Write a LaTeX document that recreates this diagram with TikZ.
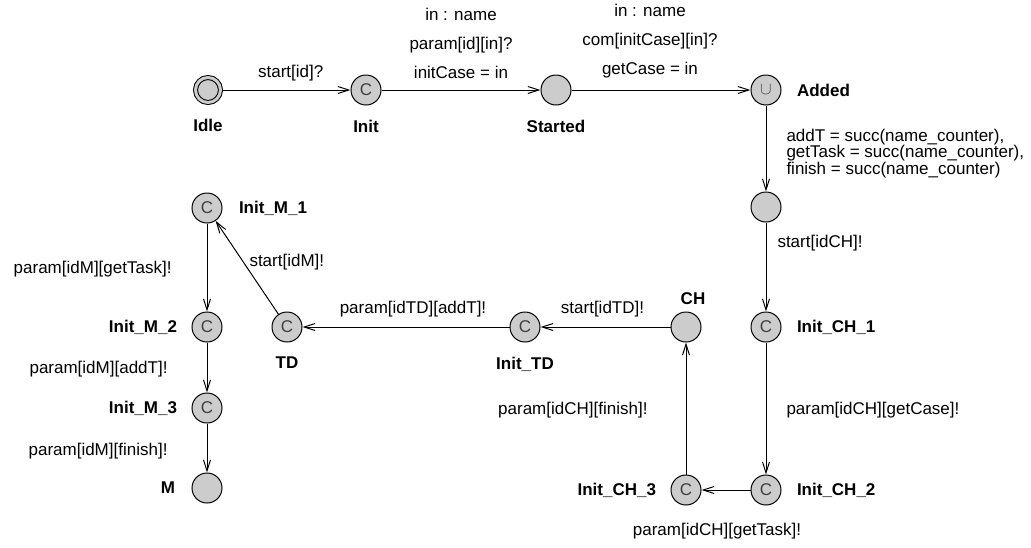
\documentclass[tikz,border=0pt]{standalone}
\usepackage{fontspec}
\setmainfont{Liberation Sans}
\usetikzlibrary{arrows.meta, positioning}

\begin{document}
\begin{tikzpicture}[->,>={Straight Barb[length=11pt,width=7pt]},x=1pt,y=-1pt,
 line width=1pt,font=\fontsize{17}{20}\selectfont,
 loc/.style={circle,draw,fill=gray!40,minimum size=30pt,inner sep=0pt,
  font=\fontsize{17}{17}\selectfont,text=black!75},
 locname/.style={font=\fontsize{17}{20}\selectfont\bfseries,inner sep=1pt},
 every node/.append style={inner sep=1pt}]

  \useasboundingbox (0,0) rectangle (1031,547);

  % locations
  \node[loc,double=gray!40,double distance=3pt,minimum size=25pt,outer sep=2.5pt] (Idle) at (208,90) {};
  \node[loc] (Init) [right of=Idle, node distance=158pt] {C};
  \node[loc] (Started) [right of=Init, node distance=190pt] {};
  \node[loc] (Added) [right of=Started, node distance=210pt] {\raisebox{-1.5pt}{\fontsize{18}{18}\selectfont$\cup$}};
  \node[loc] (Named) [below of=Added, node distance=117pt] {};
  \node[loc] (InitCH1) [below of=Named, node distance=120pt] {C};
  \node[loc] (InitCH2) [below of=InitCH1, node distance=163pt] {C};
  \node[loc] (InitCH3) [left of=InitCH2, node distance=80pt] {C};
  \node[loc] (CH) [above of=InitCH3, node distance=163pt] {};
  \node[loc] (InitTD) [left of=CH, node distance=161pt] {C};
  \node[loc] (TD) [left of=InitTD, node distance=238pt] {C};
  \node[loc] (InitM2) [left of=TD, node distance=80pt] {C};
  \node[loc] (InitM1) [above of=InitM2, node distance=119pt] {C};
  \node[loc] (InitM3) [below of=InitM2, node distance=81pt] {C};
  \node[loc] (M) [below of=InitM3, node distance=80pt] {};

  % location names
  \node[locname, below=13pt of Idle] (Idle-n) {Idle};
  \node[locname, below=13pt of Init] (Init-n) {Init};
  \node[locname, below=13pt of Started] (Started-n) {Started};
  \node[locname, right=14pt of Added] (Added-n) {Added};
  \node[locname, right=14pt of InitCH1] (InitCH1-n) {Init\_CH\_1};
  \node[locname, right=14pt of InitCH2] (InitCH2-n) {Init\_CH\_2};
  \node[locname, left=13pt of InitCH3] (InitCH3-n) {Init\_CH\_3};
  \node[locname, above=5pt of CH, xshift=7pt] (CH-n) {CH};
  \node[locname, below=13pt of InitTD] (InitTD-n) {Init\_TD};
  \node[locname, below=13pt of TD] (TD-n) {TD};
  \node[locname, right=15pt of InitM1] (InitM1-n) {Init\_M\_1};
  \node[locname, left=13pt of InitM2] (InitM2-n) {Init\_M\_2};
  \node[locname, left=13pt of InitM3] (InitM3-n) {Init\_M\_3};
  \node[locname, left=15pt of M] (M-n) {M};

  % transitions
  \path (Idle) edge node[above=7pt, xshift=4pt] (e-start) {start[id]?} (Init);
  \path (Init) edge node[above=10pt, align=center] (e-param)
    {in : name\\[9pt] param[id][in]?\\[9pt] initCase = in} (Started);
  \path (Started) edge node[above=10pt, xshift=-11pt, align=center] (e-com)
    {in : name\\[9pt] com[initCase][in]?\\[9pt] getCase = in} (Added);
  \path (Added) edge node[anchor=west, xshift=19pt, yshift=-5pt, align=left,
    font=\fontsize{17}{16.5}\selectfont] (e-succ)
    {addT = succ(name\_counter),\\ getTask = succ(name\_counter),\\ finish = succ(name\_counter)} (Named);
  \path (Named) edge node[anchor=west, xshift=10pt, yshift=24pt] (e-startch) {start[idCH]!} (InitCH1);
  \path (InitCH1) edge node[anchor=west, xshift=19pt, yshift=-2pt] (e-getcase) {param[idCH][getCase]!} (InitCH2);
  \path (InitCH2) edge node[below=32pt, xshift=-9pt] (e-gettaskch) {param[idCH][getTask]!} (InitCH3);
  \path (InitCH3) edge node[anchor=east, xshift=-37pt, yshift=-2pt] (e-finishch) {param[idCH][finish]!} (CH);
  \path (CH) edge node[above=8pt, xshift=-3pt] (e-starttd) {start[idTD]!} (InitTD);
  \path (InitTD) edge node[above=8pt, xshift=7pt] (e-addt) {param[idTD][addT]!} (TD);
  \path (TD) edge node[anchor=west, xshift=1pt, yshift=5pt] (e-startm) {start[idM]!} (InitM1);
  \path (InitM1) edge node[anchor=east, xshift=-34pt, yshift=-2pt] (e-gettaskm) {param[idM][getTask]!} (InitM2);
  \path (InitM2) edge node[anchor=east, xshift=-38pt, yshift=-2pt] (e-addtm) {param[idM][addT]!} (InitM3);
  \path (InitM3) edge node[anchor=east, xshift=-38pt, yshift=-3pt] (e-finishm) {param[idM][finish]!} (M);
\end{tikzpicture}
\end{document}
